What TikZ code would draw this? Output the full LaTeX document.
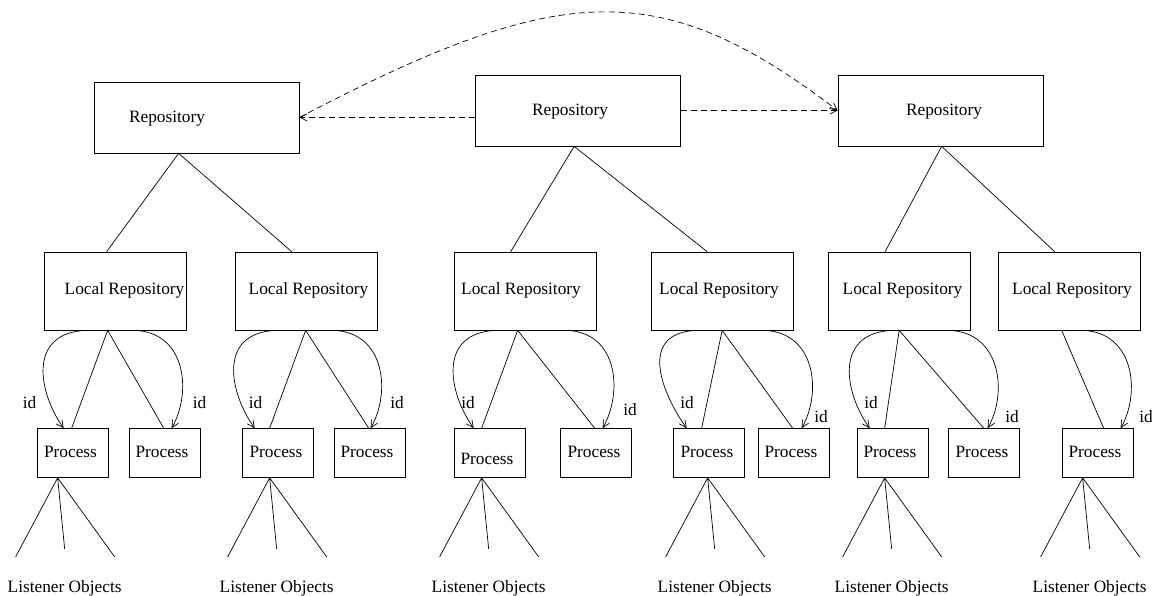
\documentclass[tikz,border=0pt]{standalone}
\usepackage{fontspec}
\setmainfont{Liberation Serif}
\usepackage{tikz}
\usetikzlibrary{arrows.meta, calc}
\tikzset{every picture/.style={/utils/exec={\fontsize{17.3pt}{21pt}\selectfont}}}

\begin{document}
\begin{tikzpicture}[x=1pt, y=-1pt, line width=0.7pt, >={Straight Barb[length=7pt, width=7pt]},
        every node/.style={inner sep=0pt},
        repo/.style={draw, minimum width=205pt, minimum height=71pt},
        localrepo/.style={draw, minimum width=142pt, minimum height=78pt},
        proc/.style={draw, minimum width=71pt, minimum height=49pt},
        link/.style={dash pattern=on 6pt off 4pt}]
        \useasboundingbox (0, 0) rectangle (1152, 595);

        % Repositories
        \node[repo] (r1) at (196.5, 117.5) {};
        \node[repo] (r2) at (578, 110.5) {};
        \node[repo] (r3) at (940.5, 110.5) {};
        \node (r1-t) at (167, 119) {Repository};
        \node (r2-t) at (570, 112) {Repository};
        \node (r3-t) at (944, 112) {Repository};

        % Local repositories
        \foreach \n/\cx/\tx in {lr1/115/124.5, lr2/306/308.5, lr3/525/521, lr4/722.5/719, lr5/899.5/902.5, lr6/1069/1072} {
            \node[localrepo] (\n) at (\cx, 291) {};
            \node (\n-t) at (\tx, 290) {Local Repository};
        }

        % Processes
        \foreach \n/\cx/\tx/\ty in {p1/72.5/70.5/452, p2/164.5/162/452, p3/277.5/276/452, p4/369.5/367/452, p5/489.5/487/459, p6/595.5/594/452, p7/708.5/707/452, p8/793.5/791/452, p9/892.5/890/452, p10/983.5/982/452, p11/1097.5/1095/452} {
            \node[proc] (\n) at (\cx, 453) {};
            \node (\n-t) at (\tx, \ty) {Process};
        }

        % Repository links
        \draw[link, ->] (r2.west |- r1.east) -- (r1.east);
        \draw[link, ->] (r2.east) -- (r3.west);
        \draw[link, ->] (r1.east) .. controls +(261, -136.5) and +(-178, -135.5) .. (r3.west);

        % Repository to local repository
        \draw ([xshift=63pt]lr1.north west) -- ([xshift=85pt]r1.south west) -- ([xshift=57pt]lr2.north west);
        \draw ([xshift=57pt]lr3.north west) -- ([xshift=99pt]r2.south west) -- ([xshift=56pt]lr4.north west);
        \draw ([xshift=57pt]lr5.north west) -- ([xshift=104pt]r3.south west) -- ([xshift=57pt]lr6.north west);

        % Local repository to process
        \draw ([xshift=35pt]p1.north west) -- ([xshift=64pt]lr1.south west) -- ([xshift=35pt]p2.north west);
        \draw ([xshift=28pt]p3.north west) -- ([xshift=71pt]lr2.south west) -- ([xshift=35pt]p4.north west);
        \draw ([xshift=28pt]p5.north west) -- ([xshift=64pt]lr3.south west) -- ([xshift=35pt]p6.north west);
        \draw ([xshift=29pt]p7.north west) -- ([xshift=71pt]lr4.south west) -- ([xshift=35pt]p8.north west);
        \draw ([xshift=28pt]p9.north west) -- ([xshift=71pt]lr5.south west) -- ([xshift=36pt]p10.north west);
        \draw ([xshift=64pt]lr6.south west) -- ([xshift=42pt]p11.north west);

        % id arcs
        \foreach \l/\s/\p/\e in {lr1/43/p1/27, lr2/42/p3/13, lr3/43/p5/20, lr4/46/p7/14, lr5/65/p9/13}
            \draw[->] ([xshift=\s pt]\l.south west) .. controls +(-60, 2) and +(-25, -35) .. ([xshift=\e pt]\p.north west);
        \foreach \l/\s/\p/\e in {lr1/91/p2/43, lr2/99/p4/37, lr3/113/p6/43, lr4/113/p8/44, lr5/121/p10/40, lr6/85/p11/59}
            \draw[->] ([xshift=\s pt]\l.south west) .. controls +(52, 2) and +(20, -35) .. ([xshift=\e pt]\p.north west);

        % id labels
        \foreach \n/\x/\y in {id1/29.5/403, id2/199.5/403, id3/255.5/403, id4/397/403, id5/468/403, id6/630/410, id7/687/403, id8/821/417, id9/871/403, id10/1012/417, id11/1146/417}
            \node (\n) at (\x, \y) {id};

        % Listener objects
        \foreach \p/\dx in {p1/21, p3/28, p5/28, p7/35, p9/28, p11/21} {
            \coordinate (\p-fan) at ([xshift=\dx pt]\p.south west);
            \draw (\p-fan) -- +(-42, 79) (\p-fan) -- +(7, 71) (\p-fan) -- +(57, 79);
            \node (\p-obj) at ($(\p-fan) + (7, 110)$) {Listener Objects};
        }
\end{tikzpicture}
\end{document}
